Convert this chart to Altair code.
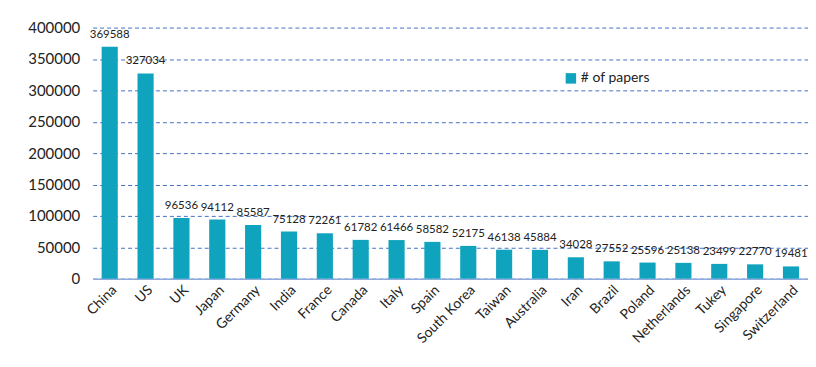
import altair as alt
import pandas as pd

countries = ["China", "US", "UK", "Japan", "Germany", "India", "France", "Canada",
             "Italy", "Spain", "South Korea", "Taiwan", "Australia", "Iran", "Brazil",
             "Poland", "Netherlands", "Tukey", "Singapore", "Switzerland"]
papers = [369588, 327034, 96536, 94112, 85587, 75128, 72261, 61782, 61466, 58582,
          52175, 46138, 45884, 34028, 27552, 25596, 25138, 23499, 22770, 19481]
y_ticks = [0, 50000, 100000, 150000, 200000, 250000, 300000, 350000, 400000]

df = pd.DataFrame({"country": countries, "papers": papers, "series": "# of papers"})

FONT = "Lato"
x = alt.X("country:N", sort=countries, title=None,
          scale=alt.Scale(paddingInner=0.55, paddingOuter=0.25),
          axis=alt.Axis(labelAngle=-45, labelAlign="right", labelBaseline="top",
                        labelFontSize=14, labelFont=FONT, labelColor="#222",
                        ticks=False, domainColor="#8faadc", domainWidth=1.5,
                        labelPadding=4))
y = alt.Y("papers:Q", title=None,
          scale=alt.Scale(domain=[0, 400000], nice=False),
          axis=alt.Axis(values=y_ticks, labelFontSize=15, labelFont=FONT,
                        labelColor="#222", ticks=False, domain=False,
                        labelOverlap=False, labelPadding=13, grid=True,
                        gridColor="#4472c4", gridDash=[4, 3], gridWidth=1,
                        format="d"))

base = alt.Chart(df).encode(x=x, y=y)

bars = base.mark_bar(color="#0fa3bd").encode(
    color=alt.Color("series:N", title=None,
                    scale=alt.Scale(range=["#0fa3bd"]),
                    legend=alt.Legend(orient="none", legendX=473, legendY=44,
                                      symbolType="square", symbolSize=110,
                                      symbolStrokeWidth=0,
                                      labelFontSize=14, labelFont=FONT,
                                      labelColor="#222", labelOffset=3))
)
labels = base.mark_text(baseline="bottom", dy=-7, fontSize=11.5,
                        font=FONT, color="#222").encode(text="papers:Q")

chart = (bars + labels).properties(
    width=718, height=252,
    autosize=alt.AutoSizeParams(type="none"),
    padding={"left": 85, "top": 19, "right": 0, "bottom": 80},
).configure_view(stroke=None)

chart.save("out.html", embed_options={"renderer": "svg", "actions": False})
